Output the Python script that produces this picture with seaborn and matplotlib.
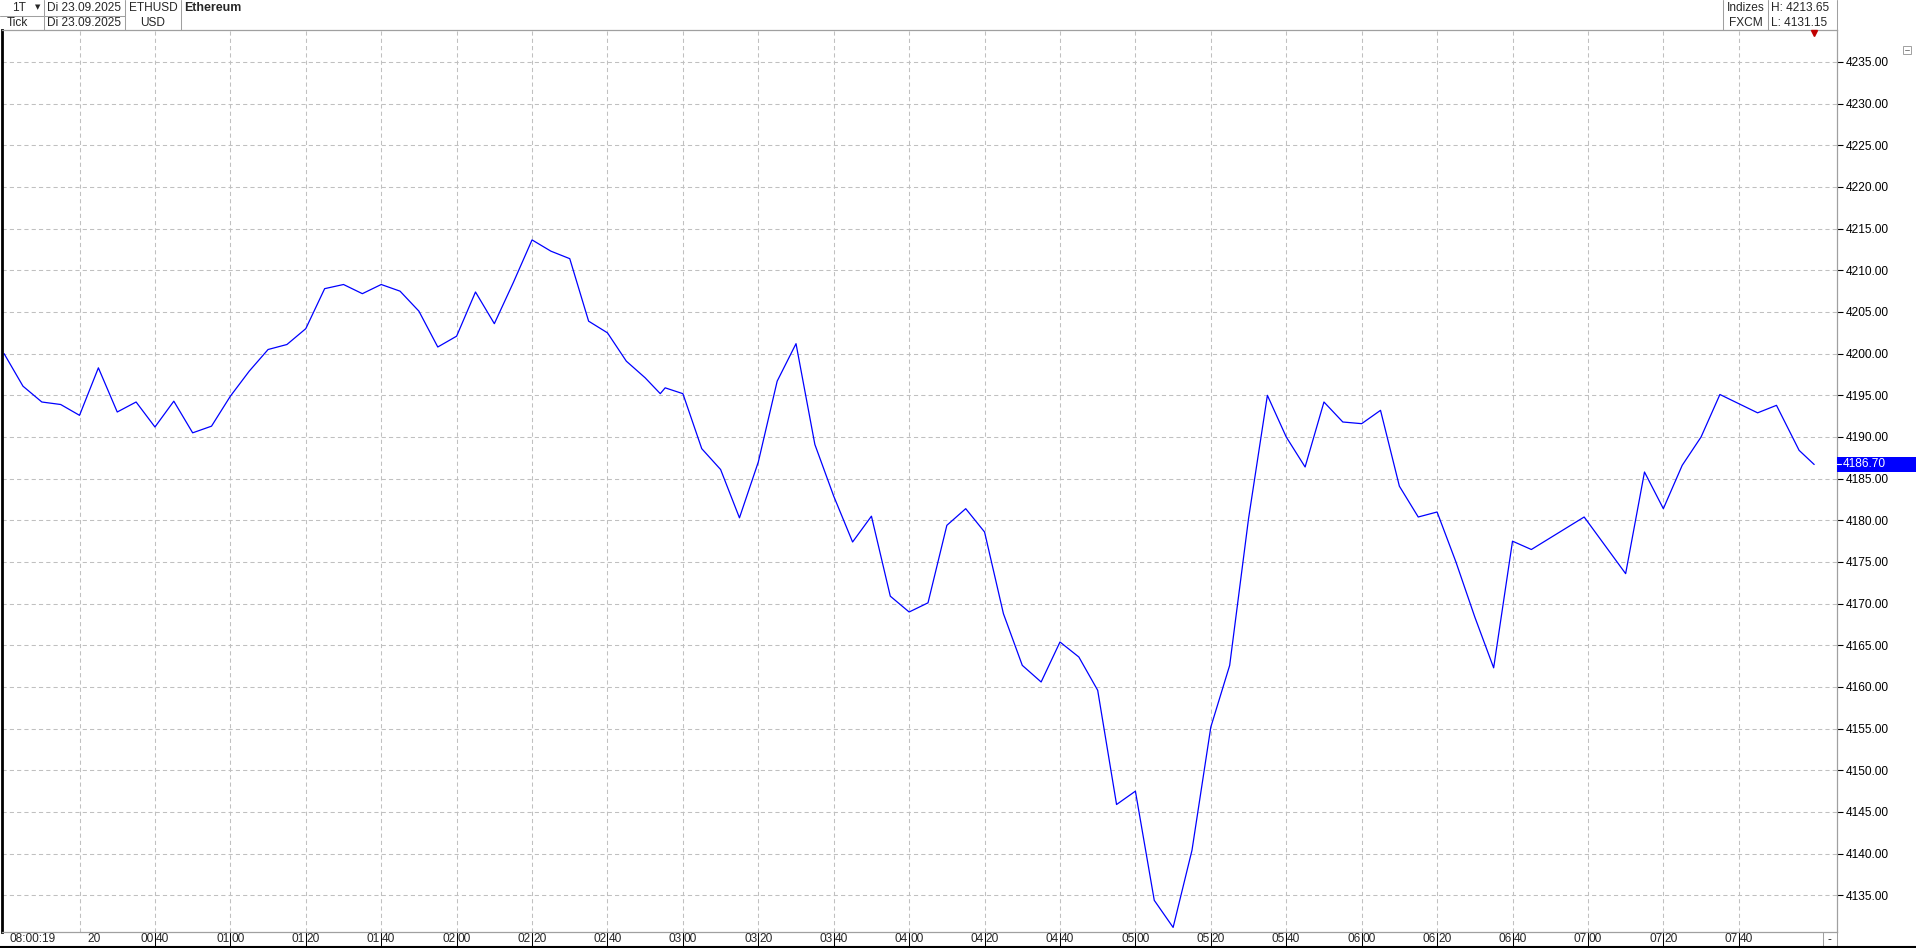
import matplotlib
matplotlib.use("Agg")
import matplotlib.pyplot as plt
import matplotlib.transforms as mtransforms
from matplotlib.lines import Line2D
from matplotlib.patches import Rectangle
import numpy as np
import pandas as pd
import seaborn as sns

# ETHUSD tick line, 23.09.2025, minutes after 00:00
minutes = [
    0, 5, 10, 15, 20, 25, 30, 35, 40, 45, 50, 55, 60, 65, 70, 75, 80, 85, 90, 95,
    100, 105, 110, 115, 120, 125, 130, 135, 140, 145, 150, 155, 160, 165, 170, 174,
    175.3, 180, 185, 190, 195, 200, 205, 210, 215, 220, 225, 230, 235, 240, 245, 250,
    255, 260, 265, 270, 275, 280, 285, 290, 295, 300, 305, 310, 315, 320, 325, 330,
    335, 340, 345, 350, 355, 360, 365, 370, 375, 380, 385, 390, 395, 400, 405, 419,
    430, 435, 440, 445, 450, 455, 465, 470, 476, 480,
]
prices = [
    4200.0, 4196.1, 4194.2, 4193.9, 4192.6, 4198.3, 4193.0, 4194.2, 4191.2, 4194.3,
    4190.5, 4191.3, 4194.9, 4197.9, 4200.5, 4201.1, 4203.0, 4207.8, 4208.3, 4207.2,
    4208.3, 4207.5, 4205.1, 4200.8, 4202.1, 4207.4, 4203.6, 4208.5, 4213.65, 4212.3,
    4211.4, 4203.9, 4202.5, 4199.1, 4197.1, 4195.2, 4195.9, 4195.2, 4188.6, 4186.1,
    4180.3, 4187.0, 4196.7, 4201.2, 4189.1, 4182.9, 4177.4, 4180.5, 4170.9, 4169.0,
    4170.1, 4179.4, 4181.4, 4178.6, 4168.8, 4162.6, 4160.6, 4165.4, 4163.6, 4159.6,
    4145.9, 4147.5, 4134.4, 4131.15, 4140.4, 4155.2, 4162.6, 4180.2, 4195.0, 4190.0,
    4186.4, 4194.2, 4191.8, 4191.6, 4193.2, 4184.1, 4180.4, 4181.0, 4175.0, 4168.4,
    4162.3, 4177.5, 4176.5, 4180.4, 4173.6, 4185.8, 4181.4, 4186.6, 4190.0, 4195.1,
    4192.9, 4193.8, 4188.4, 4186.70,
]
tick_minutes = [20, 40, 60, 80, 100, 120, 140, 160, 180, 200, 220, 240, 260, 280,
                300, 320, 340, 360, 380, 400, 420, 440, 460]
tick_labels = ["20", "00:40", "01:00", "01:20", "01:40", "02:00", "02:20", "02:40",
               "03:00", "03:20", "03:40", "04:00", "04:20", "04:40", "05:00", "05:20",
               "05:40", "06:00", "06:20", "06:40", "07:00", "07:20", "07:40"]
price_ticks = np.arange(4135, 4236, 5)

W, H = 1916, 948
GRID = "#c0c0c0"
FRAME = "#a0a0a0"

sns.set_style("white")
plt.rcParams["font.family"] = ["Liberation Sans", "DejaVu Sans"]
FS = 8.6


def fx(px):
    return px / W


def fy(py):
    return 1 - py / H


def hline(fig, x0, x1, y, color=FRAME, lw=0.75):
    fig.add_artist(Line2D([fx(x0), fx(x1)], [fy(y), fy(y)], color=color, lw=lw))


def vline(fig, x, y0, y1, color=FRAME, lw=0.75):
    fig.add_artist(Line2D([fx(x), fx(x)], [fy(y0), fy(y1)], color=color, lw=lw))


fig = plt.figure(figsize=(W / 100, H / 100), dpi=100)
fig.patch.set_facecolor("white")
ax = fig.add_axes([fx(2), fy(932), fx(1837) - fx(2), fy(30) - fy(932)])

df = pd.DataFrame({"minute": minutes, "price": prices})
sns.lineplot(data=df, x="minute", y="price", ax=ax, color="#0000ff",
             linewidth=0.9, estimator=None, sort=False)

ax.set_xlim(-0.56, 486.05)
ax.set_ylim(4130.6, 4238.84)
ax.set_xlabel("")
ax.set_ylabel("")
ax.set_xticks(tick_minutes)
ax.tick_params(axis="x", length=0, labelbottom=False)
ax.yaxis.tick_right()
ax.set_yticks(price_ticks)
ax.set_yticklabels([f"{v:.2f}" for v in price_ticks])
ax.tick_params(axis="y", direction="out", length=4, width=0.8, pad=2,
               labelsize=FS, colors="black")
ax.grid(True, color=GRID, linestyle=(0, (4, 3)), linewidth=0.75)
for side in ["top", "right", "bottom"]:
    ax.spines[side].set_color(FRAME)
    ax.spines[side].set_linewidth(0.9)
ax.spines["left"].set_color("black")
ax.spines["left"].set_linewidth(2)

# time axis strip under the plot
strip = -(946 - 932) / (932 - 30)
xtr = ax.get_xaxis_transform()
for m, lab in zip(tick_minutes, tick_labels):
    ymid = strip / 2
    if ":" in lab:
        hh, mm = lab.split(":")
        ax.plot([m, m], [0, strip], transform=xtr, color="black", lw=0.75,
                clip_on=False)
        ax.text(m, ymid, hh, transform=mtransforms.offset_copy(xtr, fig=fig, x=-1, units="dots"),
                ha="right", va="center", fontsize=FS)
        ax.text(m, ymid, mm, transform=mtransforms.offset_copy(xtr, fig=fig, x=1, units="dots"),
                ha="left", va="center", fontsize=FS)
    else:
        ax.text(m, ymid, lab, transform=mtransforms.offset_copy(xtr, fig=fig, x=8, units="dots"),
                ha="left", va="center", fontsize=FS)
fig.text(fx(10), fy(939), "08:00:19", ha="left", va="center", fontsize=FS)
vline(fig, 1823, 932, 946)
vline(fig, 1837, 932, 946)
fig.text(fx(1829), fy(940), "-", ha="center", va="center", fontsize=FS)
hline(fig, 0, W, 946.5, color="black", lw=1.5)

# last price marker on the right axis
last = prices[-1]
ytr = mtransforms.blended_transform_factory(ax.transAxes, ax.transData)
ax_w = 1837 - 2
ax.add_patch(Rectangle((1.0, last - 0.9), (W - 1837) / ax_w, 1.8, transform=ytr,
                       facecolor="#0000ff", edgecolor="none", clip_on=False, zorder=5))
ax.plot([1.0, 1.0 + 4 / ax_w], [last, last], transform=ytr, color="white", lw=0.8,
        clip_on=False, zorder=6)
ax.text(1.0 + 6 / ax_w, last, f"{last:.2f}", transform=ytr, color="white",
        ha="left", va="center", fontsize=FS, zorder=6)

# header boxes
hline(fig, 0, 125, 15.5, color=FRAME)
for x in [44, 125, 181, 1723, 1768, 1837]:
    vline(fig, x, 0, 30)

r1, r2 = 8, 23
fig.text(fx(12), fy(r1), "1T", ha="left", va="center", fontsize=FS)
fig.text(fx(37.5), fy(r1 - 1), "\u25bc", ha="center", va="center", fontsize=5,
         family=["DejaVu Sans"])
fig.text(fx(7), fy(r2), "Tick", ha="left", va="center", fontsize=FS)
fig.text(fx(47), fy(r1), "Di 23.09.2025", ha="left", va="center", fontsize=FS)
fig.text(fx(47), fy(r2), "Di 23.09.2025", ha="left", va="center", fontsize=FS)
fig.text(fx(153), fy(r1), "ETHUSD", ha="center", va="center", fontsize=FS)
fig.text(fx(153), fy(r2), "USD", ha="center", va="center", fontsize=FS)
fig.text(fx(184), fy(r1), "Ethereum", ha="left", va="center", fontsize=FS + 0.3,
         fontweight="bold")
fig.text(fx(1745.5), fy(r1), "Indizes", ha="center", va="center", fontsize=FS)
fig.text(fx(1745.5), fy(r2), "FXCM", ha="center", va="center", fontsize=FS)
fig.text(fx(1771), fy(r1), f"H: {max(prices):.2f}", ha="left", va="center", fontsize=FS)
fig.text(fx(1771), fy(r2), f"L: {min(prices):.2f}", ha="left", va="center", fontsize=FS)
fig.add_artist(Line2D([fx(1814)], [fy(32.5)], marker="v", markersize=4,
                      color="#c00000", linestyle="none"))
fig.add_artist(Rectangle((fx(1903), fy(54)), 8 / W, 8 / H, facecolor="white",
                         edgecolor=FRAME, lw=0.7))
hline(fig, 1905, 1909, 50, color="#808080", lw=0.7)

fig.savefig("out.png", dpi=100)
plt.close(fig)
